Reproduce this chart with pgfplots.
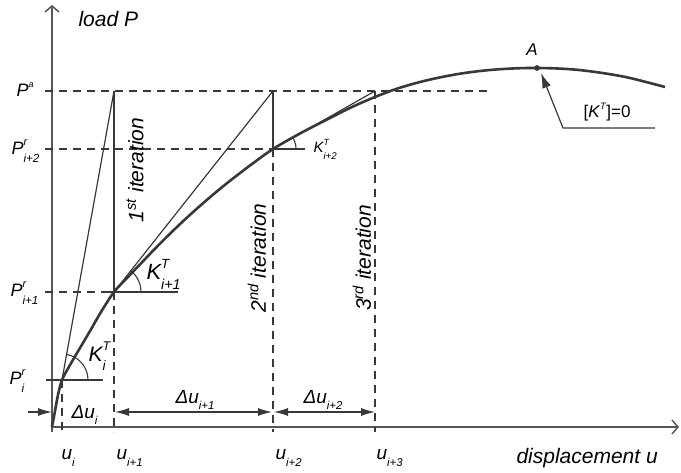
\documentclass[border=0pt]{standalone}
\usepackage{fontspec}
\setmainfont{Liberation Sans}
\setsansfont{Liberation Sans}
\usepackage{graphicx}
\usepackage{pgfplots}
\pgfplotsset{compat=1.18}
\usetikzlibrary{arrows.meta}
\definecolor{ink}{HTML}{383838}
\definecolor{txt}{HTML}{222222}
\newcommand{\SupSub}[3]{#1\rlap{\raisebox{1.0ex}{\scalebox{0.6}{#2}}}\raisebox{-0.8ex}{\scalebox{0.65}{#3}}}
\newcommand{\Sub}[2]{#1\raisebox{-0.6ex}{\scalebox{0.6}{#2}}}
\begin{document}
\begin{tikzpicture}
\begin{axis}[scale only axis, width=681pt, height=473pt,
  xmin=0, xmax=681, ymin=0, ymax=473, y dir=reverse,
  axis lines=none, clip=false,
  every node/.style={text=txt}]
\path (rel axis cs:0,0) rectangle (rel axis cs:1,1);
% axes
\addplot[ink!85, line width=1.5pt, -{Straight Barb[length=6pt,width=14pt,line width=1.5pt]}] coordinates {(52,432)(52,5)};
\addplot[ink!85, line width=1.5pt, -{Straight Barb[length=6pt,width=14pt,line width=1.5pt]}] coordinates {(52,427)(679,427)};
% dashed horizontals
\addplot[ink, line width=1.2pt, dash pattern=on 8pt off 6pt] coordinates {(45,91)(490,91)};
\addplot[ink, line width=1.2pt, dash pattern=on 8pt off 6pt] coordinates {(45,149)(273,149)};
\addplot[ink, line width=1.2pt, dash pattern=on 8pt off 6pt] coordinates {(45,292)(114,292)};
% dashed verticals
\addplot[ink, line width=1.2pt, dash pattern=on 8pt off 6pt] coordinates {(62,380)(62,432)};
\addplot[ink, line width=1.2pt, dash pattern=on 8pt off 6pt] coordinates {(114,292)(114,432)};
\addplot[ink, line width=1.2pt, dash pattern=on 8pt off 6pt] coordinates {(273,149)(273,432)};
\addplot[ink, line width=1.2pt, dash pattern=on 8pt off 6pt] coordinates {(375,91)(375,432)};
% solid verticals
\addplot[ink, line width=1.3pt] coordinates {(114,91)(114,292)};
\addplot[ink, line width=1.3pt] coordinates {(273,91)(273,149)};
% secant / tangent lines
\addplot[ink, line width=1.2pt] coordinates {(62,380)(114,91)};
\addplot[ink, line width=1.2pt] coordinates {(114,292)(273,91)};
\addplot[ink, line width=1.2pt] coordinates {(273,149)(375,91)};
% angle bases
\addplot[ink, line width=1.2pt] coordinates {(46,380)(103,380)};
\addplot[ink, line width=1.2pt] coordinates {(107,292)(178,292)};
\addplot[ink, line width=1.2pt] coordinates {(273,149)(305,149)};
% angle arcs
\addplot[ink, line width=1.1pt, smooth] coordinates {(88,380)(87.6,375.5)(86.4,371.1)(84.5,367)(81.9,363.3)(78.7,360.1)(75,357.5)(70.9,355.6)(66.5,354.4)};
\addplot[ink, line width=1.1pt, smooth] coordinates {(141,292)(140.6,287.3)(139.4,282.8)(137.4,278.5)(134.7,274.6)(130.6,270.7)};
\addplot[ink, line width=1.1pt, smooth] coordinates {(296,149)(295.7,145)(294.6,141.1)(292.9,137.5)};
% main curve
\addplot[ink, line width=2.6pt, smooth, tension=0.55] coordinates {
(52,427)(55,411)(58,395)(62,380)(70,365)(80,348)(90,331)(101,312)(114,292)(127,278)(140,264.4)(155,248.7)(170,233.7)(185,219.4)(200,205.9)(215,193)(230,180.8)(250,165.5)(273,149)(300,133.5)(330,118)(352,107)(375,97)(397,88.7)(420,82)(440,77.4)(460,73.7)(480,71)(500,69.2)(520,68.2)(537,68)(560,68.6)(580,70.1)(605,73.4)(630,78)(665,87)};
% point A
\addplot[only marks, mark=*, mark size=2.6pt, ink] coordinates {(537,68)};
% leader to A
\addplot[ink, line width=1.2pt, -{Latex[length=15pt,width=9pt]}] coordinates {(655,128)(563,128)(541,73)};
% displacement arrows
\addplot[ink, line width=1.2pt, -{Latex[length=14pt,width=8pt]}] coordinates {(28,412)(52,412)};
\addplot[ink, line width=1.2pt, {Latex[length=14pt,width=8pt]}-{Latex[length=14pt,width=8pt]}] coordinates {(115,412)(272,412)};
\addplot[ink, line width=1.2pt, {Latex[length=14pt,width=8pt]}-{Latex[length=14pt,width=8pt]}] coordinates {(274,412)(375,412)};
% texts
\node[anchor=base west, font=\fontsize{21}{24}\selectfont\itshape] at (axis cs:75,27) {load P};
\node[anchor=base west, font=\fontsize{21}{24}\selectfont\itshape] at (axis cs:513,464) {displacement u};
\node[anchor=base west, font=\fontsize{19}{22}\selectfont\itshape] at (axis cs:58,460) {\Sub{u}{i}};
\node[anchor=base west, font=\fontsize{19}{22}\selectfont\itshape] at (axis cs:113,460) {\Sub{u}{i+1}};
\node[anchor=base west, font=\fontsize{19}{22}\selectfont\itshape] at (axis cs:272,460) {\Sub{u}{i+2}};
\node[anchor=base west, font=\fontsize{19}{22}\selectfont\itshape] at (axis cs:373,460) {\Sub{u}{i+3}};
\node[anchor=base west, font=\fontsize{19}{22}\selectfont\itshape] at (axis cs:68,418) {\Sub{Δu}{i}};
\node[anchor=base west, font=\fontsize{19}{22}\selectfont\itshape] at (axis cs:172,403) {\Sub{Δu}{i+1}};
\node[anchor=base west, font=\fontsize{19}{22}\selectfont\itshape] at (axis cs:300,403) {\Sub{Δu}{i+2}};
\node[anchor=base west, font=\fontsize{18}{21}\selectfont\itshape] at (axis cs:13,97) {P\raisebox{1.0ex}{\scalebox{0.5}{a}}};
\node[anchor=base west, font=\fontsize{18}{21}\selectfont\itshape] at (axis cs:8,155) {\SupSub{P}{r}{i+2}};
\node[anchor=base west, font=\fontsize{18}{21}\selectfont\itshape] at (axis cs:7,297) {\SupSub{P}{r}{i+1}};
\node[anchor=base west, font=\fontsize{18}{21}\selectfont\itshape] at (axis cs:6,385) {\SupSub{P}{r}{i}};
\node[anchor=base west, font=\fontsize{22}{25}\selectfont\itshape] at (axis cs:143,280) {\SupSub{K}{T}{i+1}};
\node[anchor=base west, font=\fontsize{15}{18}\selectfont\itshape] at (axis cs:310,153) {\SupSub{K}{T}{i+2}};
\node[anchor=base west, font=\fontsize{21}{24}\selectfont\itshape] at (axis cs:85,362) {\SupSub{K}{T}{i}};
\node[anchor=base, font=\fontsize{17}{20}\selectfont\itshape] at (axis cs:532,56) {A};
\node[anchor=base west, font=\fontsize{17}{20}\selectfont] at (axis cs:580,118) {[\textit{K}\raisebox{1.0ex}{\scalebox{0.55}{\textit{T}}}]=0};
\node[rotate=90, font=\fontsize{21}{24}\selectfont\itshape] at (axis cs:135,170) {1\textsuperscript{st} iteration};
\node[rotate=90, font=\fontsize{21}{24}\selectfont\itshape] at (axis cs:257,258) {2\textsuperscript{nd} iteration};
\node[rotate=90, font=\fontsize{21}{24}\selectfont\itshape] at (axis cs:362,258) {3\textsuperscript{rd} iteration};
\end{axis}
\end{tikzpicture}
\end{document}
